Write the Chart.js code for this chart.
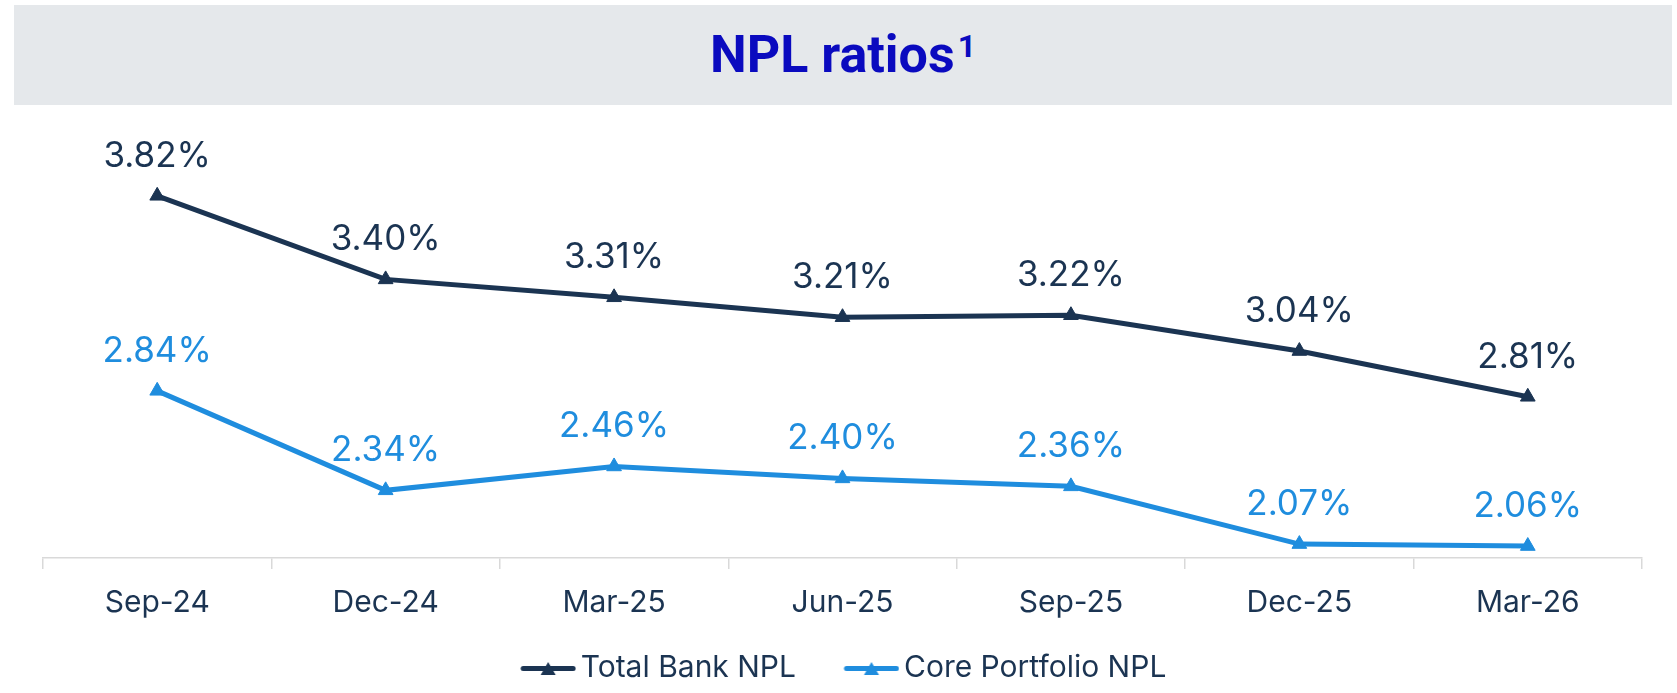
<!DOCTYPE html>
<html>
<head>
<meta charset="utf-8">
<script src="https://cdn.jsdelivr.net/npm/chart.js@4.4.1/dist/chart.umd.min.js"></script>
<style>
  html, body { margin: 0; padding: 0; background: #ffffff; }
  #wrap { position: relative; width: 1677px; height: 693px; overflow: hidden; }
  #banner {
    position: absolute; left: 14px; top: 5px; width: 1658px; height: 100px;
    background: #E5E8EB; display: flex; align-items: center; justify-content: center;
    font-family: Roboto, "DejaVu Sans", sans-serif; font-weight: 700; font-size: 52px;
    color: #0A0ABF; line-height: 1;
  }
  #banner sup { font-size: 32px; position: relative; top: -9px; vertical-align: top; margin-left: 3px; }
  #chartBox { position: absolute; left: 0; top: 0; width: 1677px; height: 693px; }
</style>
</head>
<body>
<div id="wrap">
  <div id="banner"><span>NPL ratios</span><sup>1</sup></div>
  <div id="chartBox"><canvas id="c"></canvas></div>
</div>
<script>
const categories = ['Sep-24', 'Dec-24', 'Mar-25', 'Jun-25', 'Sep-25', 'Dec-25', 'Mar-26'];
const totalBankNpl = [3.82, 3.40, 3.31, 3.21, 3.22, 3.04, 2.81];
const corePortfolioNpl = [2.84, 2.34, 2.46, 2.40, 2.36, 2.07, 2.06];
const seriesNames = ['Total Bank NPL', 'Core Portfolio NPL'];

const NAVY = '#1B3452';
const BLUE = '#1F8DDE';
const FONT = 'Inter, Roboto, "DejaVu Sans", sans-serif';

function legendSymbol(color) {
  const L = 42, w = 56 + L, h = 20;
  const cv = document.createElement('canvas');
  cv.width = w; cv.height = h;
  const g = cv.getContext('2d');
  g.strokeStyle = color; g.lineWidth = 5; g.lineCap = 'round';
  g.beginPath(); g.moveTo(L + 3, 10.5); g.lineTo(L + 53, 10.5); g.stroke();
  g.fillStyle = color;
  const cx = L + 28;
  g.beginPath(); g.moveTo(cx, 4); g.lineTo(cx + 7.5, 17); g.lineTo(cx - 7.5, 17); g.closePath(); g.fill();
  return cv;
}
const legendImgs = [legendSymbol(NAVY), legendSymbol(BLUE)];

const valueLabels = {
  id: 'valueLabels',
  afterDatasetsDraw(chart) {
    const ctx = chart.ctx;
    ctx.save();
    ctx.font = '35px ' + FONT;
    ctx.textAlign = 'center';
    ctx.textBaseline = 'alphabetic';
    chart.data.datasets.forEach((ds, i) => {
      const meta = chart.getDatasetMeta(i);
      ctx.fillStyle = ds.borderColor;
      meta.data.forEach((pt, j) => {
        ctx.fillText(ds.data[j].toFixed(2) + '%', pt.x, pt.y - 29);
      });
    });
    ctx.restore();
  }
};

const legendShift = {
  id: 'legendShift',
  afterLayout(chart) {
    if (chart.legend) { chart.legend.left -= 15; chart.legend.right -= 15; }
  }
};

new Chart(document.getElementById('c'), {
  type: 'line',
  data: {
    labels: categories,
    datasets: [
      {
        label: seriesNames[0], data: totalBankNpl,
        borderColor: NAVY, backgroundColor: NAVY, borderWidth: 5,
        pointStyle: 'triangle', pointRadius: 8.5, pointBorderWidth: 1,
        pointBackgroundColor: NAVY, pointBorderColor: NAVY, tension: 0, clip: false
      },
      {
        label: seriesNames[1], data: corePortfolioNpl,
        borderColor: BLUE, backgroundColor: BLUE, borderWidth: 5,
        pointStyle: 'triangle', pointRadius: 8.5, pointBorderWidth: 1,
        pointBackgroundColor: BLUE, pointBorderColor: BLUE, tension: 0, clip: false
      }
    ]
  },
  options: {
    responsive: true,
    maintainAspectRatio: false,
    animation: false,
    layout: { padding: { left: 43, right: 35, top: 160, bottom: 0 } },
    scales: {
      x: {
        offset: true,
        border: { display: true, color: '#D9D9D9', width: 1.5 },
        grid: { display: true, drawOnChartArea: false, drawTicks: true, tickLength: 11, color: '#D9D9D9', lineWidth: 1.5, offset: true },
        ticks: { color: NAVY, font: { family: FONT, size: 30 }, padding: 16 }
      },
      y: { display: false, min: 2.0, max: 4.0 }
    },
    plugins: {
      title: { display: false },
      tooltip: { enabled: false },
      legend: {
        position: 'bottom',
        labels: {
          usePointStyle: true,
          pointStyleWidth: 77,
          padding: 16,
          color: NAVY,
          font: { family: FONT, size: 30 },
          generateLabels(chart) {
            const items = Chart.defaults.plugins.legend.labels.generateLabels(chart);
            items.forEach((it, i) => { it.pointStyle = legendImgs[i]; });
            return items;
          }
        }
      }
    }
  },
  plugins: [valueLabels, legendShift]
});
</script>
</body>
</html>
